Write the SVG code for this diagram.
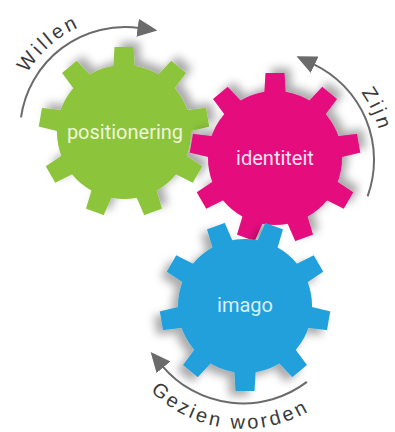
<svg xmlns="http://www.w3.org/2000/svg" xmlns:xlink="http://www.w3.org/1999/xlink" width="395" height="432" viewBox="0 0 395 432">
  <style>
    .gear-label { font-family: Roboto, "Liberation Sans", sans-serif; font-size: 20px; text-anchor: middle; }
    .arc { fill: none; stroke: #6b6b6b; stroke-width: 2; marker-end: url(#arrow); }
    .arc-label { font-family: "Liberation Sans", Arial, sans-serif; font-size: 20px; fill: #3a3a3a; letter-spacing: 3px; }
  </style>
  <defs>
    <filter id="shadow" x="-30%" y="-30%" width="160%" height="160%">
      <feDropShadow dx="5" dy="6" stdDeviation="4.5" flood-color="#000" flood-opacity="0.33"/>
    </filter>
    <marker id="arrow" viewBox="0 0 20 18" markerWidth="20" markerHeight="18" refX="2" refY="9" orient="auto" markerUnits="userSpaceOnUse">
      <path d="M0,0 L20,9 L0,18 Z" fill="#6b6b6b"/>
    </marker>
    <path id="tooth" d="M60,-11 L85,-9.5 L85,9.5 L60,11 Z"/>
    <g id="gear">
      <circle r="67"/>
      <use xlink:href="#tooth"/>
      <use xlink:href="#tooth" transform="rotate(40)"/>
      <use xlink:href="#tooth" transform="rotate(80)"/>
      <use xlink:href="#tooth" transform="rotate(120)"/>
      <use xlink:href="#tooth" transform="rotate(160)"/>
      <use xlink:href="#tooth" transform="rotate(200)"/>
      <use xlink:href="#tooth" transform="rotate(240)"/>
      <use xlink:href="#tooth" transform="rotate(280)"/>
      <use xlink:href="#tooth" transform="rotate(320)"/>
    </g>
    <path id="p-willen" d="M11,132 A115,115 0 0 1 145,18.7"/>
    <path id="p-zijn" d="M307.3,51.9 A115,115 0 0 1 376.1,199.3"/>
    <path id="p-gezien" d="M114,320.7 A131,131 0 0 0 366.1,342.8"/>
  </defs>
  <rect width="395" height="432" fill="#ffffff"/>

  <g id="gear-positionering">
    <use xlink:href="#gear" transform="translate(124,132) rotate(-90)" fill="#8cc43a" filter="url(#shadow)"/>
    <text class="gear-label" x="125" y="139" fill="#eef6dc">positionering</text>
  </g>

  <g id="gear-identiteit">
    <use xlink:href="#gear" transform="translate(275,158) rotate(-90)" fill="#e5087e" filter="url(#shadow)"/>
    <text class="gear-label" x="275" y="165" fill="#fbe3ef">identiteit</text>
  </g>

  <g id="gear-imago">
    <use xlink:href="#gear" transform="translate(245,306) rotate(90)" fill="#23a0dc" filter="url(#shadow)"/>
    <text class="gear-label" x="245" y="312" fill="#d8f0fb">imago</text>
  </g>

  <g id="connectors">
    <path class="arc" d="M21,117.4 A105,105 0 0 1 139.6,28"/>
    <path class="arc" d="M367.6,196.3 A106,106 0 0 0 312.8,63.9"/>
    <path class="arc" d="M306.9,381.9 A105.5,105.5 0 0 1 162.2,365.8"/>
    <text class="arc-label"><textPath xlink:href="#p-willen" startOffset="49%" text-anchor="middle">Willen</textPath></text>
    <text class="arc-label"><textPath xlink:href="#p-zijn" startOffset="50%" text-anchor="middle">Zijn</textPath></text>
    <text class="arc-label"><textPath xlink:href="#p-gezien" startOffset="48.7%" text-anchor="middle">Gezien worden</textPath></text>
  </g>
</svg>
